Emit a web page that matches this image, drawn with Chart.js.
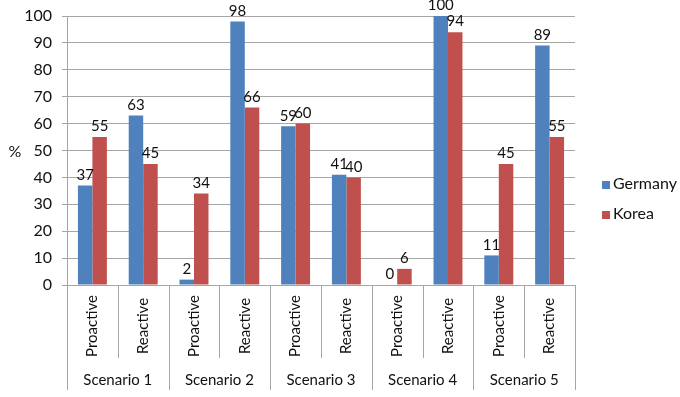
<!DOCTYPE html>
<html>
<head>
<meta charset="utf-8">
<script src="https://cdn.jsdelivr.net/npm/chart.js@4"></script>
<style>
  html, body { margin: 0; padding: 0; background: #fff; }
  #wrap { width: 680px; height: 397px; }
</style>
</head>
<body>
<div id="wrap"><canvas id="chart" width="680" height="397"></canvas></div>
<script>
const scenarios = ["Scenario 1", "Scenario 2", "Scenario 3", "Scenario 4", "Scenario 5"];
const modes = ["Proactive", "Reactive"];
const germany = [37, 63, 2, 98, 59, 41, 0, 100, 11, 89];
const korea = [55, 45, 34, 66, 60, 40, 6, 94, 45, 55];
const yTicks = [0, 10, 20, 30, 40, 50, 60, 70, 80, 90, 100];

const FONT = "Lato, 'Open Sans', sans-serif";
const TEXT = "#111";
const LINE = "#a6a6a6";

// one label per bar slot: Proactive / Reactive per scenario
const labels = [];
scenarios.forEach((s) => modes.forEach((m) => labels.push(m)));

// draws value labels, two-level axis, separators, "%" and legend
const extras = {
  id: "extras",
  afterDatasetsDraw(chart) {
    const ctx = chart.ctx;
    const area = chart.chartArea;
    const x = chart.scales.x;

    ctx.save();
    ctx.fillStyle = TEXT;
    ctx.font = "15px " + FONT;
    ctx.textAlign = "center";
    ctx.textBaseline = "bottom";
    chart.data.datasets.forEach((ds, di) => {
      chart.getDatasetMeta(di).data.forEach((bar, i) => {
        ctx.fillText(String(ds.data[i]), bar.x, bar.y - 3);
      });
    });

    // separators below the axis
    ctx.strokeStyle = LINE;
    ctx.lineWidth = 1;
    const n = labels.length;
    for (let i = 0; i <= n; i++) {
      let px;
      if (i === 0) px = area.left;
      else if (i === n) px = area.right;
      else px = (x.getPixelForValue(i - 1) + x.getPixelForValue(i)) / 2;
      const bottom = i % 2 === 0 ? area.bottom + 105 : area.bottom + 73;
      ctx.beginPath();
      ctx.moveTo(Math.round(px) + 0.5, area.bottom);
      ctx.lineTo(Math.round(px) + 0.5, bottom);
      ctx.stroke();
    }

    // rotated sub labels
    ctx.font = "15px " + FONT;
    ctx.textAlign = "center";
    ctx.textBaseline = "middle";
    labels.forEach((lab, i) => {
      ctx.save();
      ctx.translate(x.getPixelForValue(i), area.bottom + 41);
      ctx.rotate(-Math.PI / 2);
      ctx.fillText(lab, 0, 0);
      ctx.restore();
    });

    // scenario labels
    ctx.font = "15px " + FONT;
    scenarios.forEach((s, g) => {
      const cx = (x.getPixelForValue(g * 2) + x.getPixelForValue(g * 2 + 1)) / 2;
      ctx.fillText(s, cx, area.bottom + 95);
    });

    // axis title
    ctx.font = "16px " + FONT;
    ctx.fillText("%", 15, 152);

    // legend
    ctx.textAlign = "left";
    ctx.font = "16px " + FONT;
    chart.data.datasets.forEach((ds, di) => {
      const ly = 184 + di * 30;
      ctx.fillStyle = ds.backgroundColor;
      ctx.fillRect(602, ly - 3, 8, 8);
      ctx.fillStyle = TEXT;
      ctx.fillText(ds.label, 613, ly);
    });
    ctx.restore();
  }
};

new Chart(document.getElementById("chart"), {
  type: "bar",
  data: {
    labels: labels,
    datasets: [
      { label: "Germany", data: germany, backgroundColor: "#4f81bd" },
      { label: "Korea", data: korea, backgroundColor: "#c0504d" }
    ]
  },
  options: {
    responsive: false,
    animation: false,
    layout: { padding: { top: 16, right: 105, left: 0, bottom: 0 } },
    plugins: {
      legend: { display: false },
      tooltip: { enabled: false }
    },
    datasets: {
      bar: { categoryPercentage: 0.57, barPercentage: 1.0 }
    },
    scales: {
      x: {
        ticks: { display: false },
        grid: { display: false },
        border: { color: LINE },
        afterFit(scale) { scale.height = 112; }
      },
      y: {
        min: 0,
        max: 100,
        afterBuildTicks(scale) { scale.ticks = yTicks.map((v) => ({ value: v })); },
        ticks: { color: TEXT, font: { size: 16, family: FONT }, padding: 10 },
        grid: { color: LINE, tickLength: 5 },
        border: { color: LINE },
        afterFit(scale) {
          scale.width = 67;
          scale.paddingTop = 0;
          scale.paddingBottom = 0;
        }
      }
    }
  },
  plugins: [extras]
});
</script>
</body>
</html>
